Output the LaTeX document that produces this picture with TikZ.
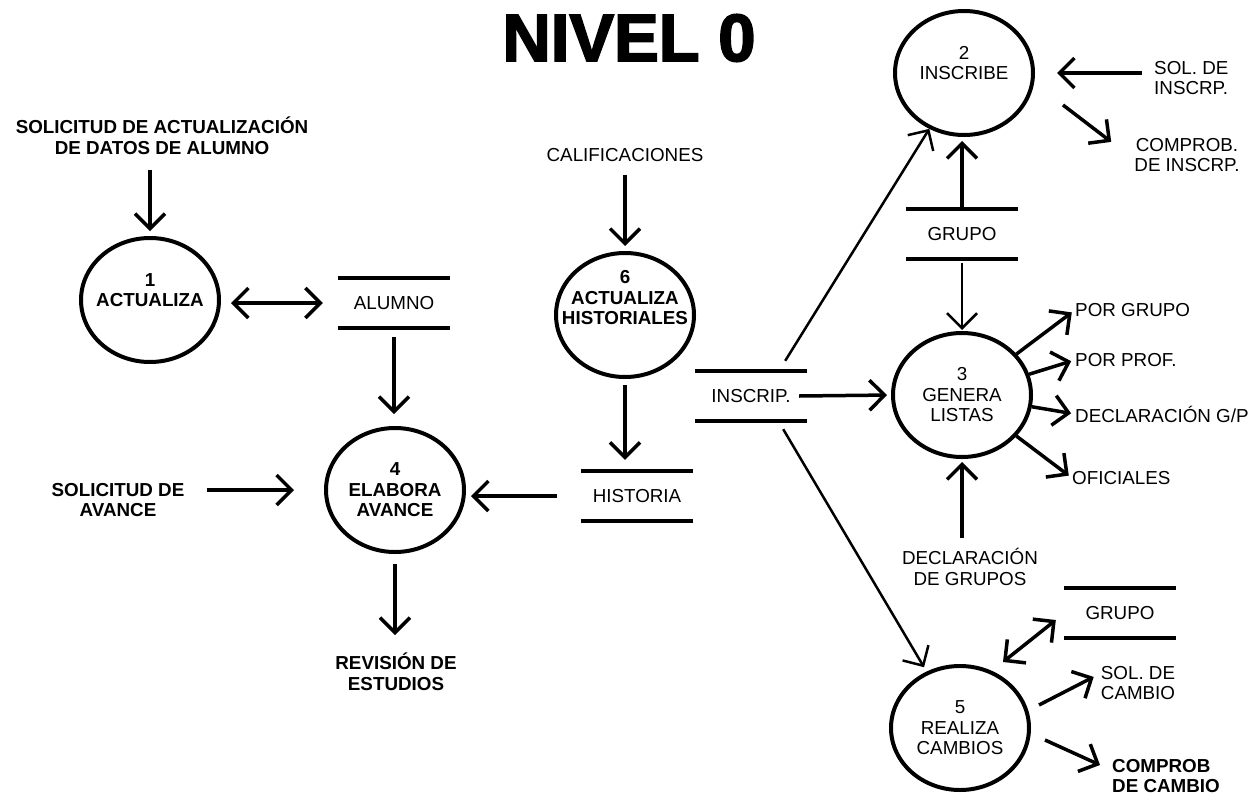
\documentclass[tikz,border=0pt]{standalone}
\usepackage{fontspec}
\setmainfont{Liberation Sans}
\newfontfamily\titfont{Liberation Sans}[FakeBold=2.5]
\usetikzlibrary{arrows.meta,shapes.geometric}
\newcommand{\lblfont}{\fontsize{18.8}{20.5}\selectfont}

\begin{document}
\begin{tikzpicture}[x=1pt, y=-1pt,
  proc/.style={draw, ellipse, line width=4pt, minimum width=138pt, minimum height=124pt, inner sep=0pt},
  ptxt/.style={align=center, font=\lblfont, inner sep=0pt},
  lbl/.style={align=center, font=\lblfont, inner sep=0pt},
  store/.style={minimum width=112pt, minimum height=50pt, inner sep=0pt, font=\lblfont,
    append after command={(\tikzlastnode.north west) edge[line width=4pt] (\tikzlastnode.north east)
      (\tikzlastnode.south west) edge[line width=4pt] (\tikzlastnode.south east)}},
  flow/.style={-{Straight Barb[length=15pt,width=30pt]}, line width=3.5pt},
  thinflow/.style={flow, line width=2.5pt},
  both/.style={{Straight Barb[length=15pt,width=30pt]}-{Straight Barb[length=15pt,width=30pt]}, line width=3.5pt}
]
\useasboundingbox (0,0) rectangle (1253,803);

\node[font=\titfont\fontsize{67}{70}\selectfont\bfseries, inner sep=0pt] (titulo) at (629,38) {NIVEL 0};

% procesos
\node[proc, label={[ptxt, font=\lblfont\bfseries, yshift=10pt]center:{1\\ACTUALIZA}}] (p1) at (150,300) {};
\node[proc, label={[ptxt, yshift=10pt]center:{2\\INSCRIBE}}] (p2) at (964,73) {};
\node[proc, label={[ptxt]center:{3\\GENERA\\LISTAS}}] (p3) at (962,395) {};
\node[proc, label={[ptxt, font=\lblfont\bfseries]center:{4\\ELABORA\\AVANCE}}] (p4) at (395,490) {};
\node[proc, label={[ptxt]center:{5\\REALIZA\\CAMBIOS}}] (p5) at (960,728) {};
\node[proc, label={[ptxt, font=\lblfont\bfseries, yshift=17pt]center:{6\\ACTUALIZA\\HISTORIALES}}] (p6) at (625,315) {};

% almacenes
\node[store] (alumno) at (394,303) {ALUMNO};
\node[store] (historia) at (637,496) {HISTORIA};
\node[store] (inscrip) at (751,396) {INSCRIP.};
\node[store] (grupoa) at (962,234) {GRUPO};
\node[store] (grupob) at (1120,613) {GRUPO};

% entradas y salidas
\node[lbl, font=\lblfont\bfseries] (solact) at (162,136) {SOLICITUD DE ACTUALIZACIÓN\\DE DATOS DE ALUMNO};
\node[lbl] (calif) at (625,155) {CALIFICACIONES};
\node[lbl, font=\lblfont\bfseries] (solav) at (118,500) {SOLICITUD DE\\AVANCE};
\node[lbl, font=\lblfont\bfseries] (revis) at (396,672) {REVISIÓN DE\\ESTUDIOS};
\node[lbl, anchor=west, align=left] (soli) at (1154,78) {SOL. DE\\INSCRP.};
\node[lbl] (cmpi) at (1187,155) {COMPROB.\\DE INSCRP.};
\node[lbl, anchor=west] (porgrupo) at (1075,310) {POR GRUPO};
\node[lbl, anchor=west] (porprof) at (1075,360) {POR PROF.};
\node[lbl, anchor=west] (declgp) at (1075,414) {DECLARACIÓN G/P};
\node[lbl, anchor=west] (ofic) at (1072,478) {OFICIALES};
\node[lbl] (declg) at (970,567) {DECLARACIÓN\\DE GRUPOS};
\node[lbl] (solc) at (1138,683) {SOL. DE\\CAMBIO};
\node[lbl, font=\lblfont\bfseries, anchor=west, align=left] (cmpc) at (1112,776) {COMPROB\\DE CAMBIO};

% flujos
\draw[flow, shorten <=15pt, shorten >=5pt] (solact.south -| p1.north) -- (p1.north);
\draw[both, shorten <=10pt, shorten >=15pt] (p1.east |- alumno.west) -- (alumno.west);
\draw[flow, shorten <=9pt, shorten >=12pt] (alumno.south) -- (alumno.south |- p4.north);
\draw[flow, shorten <=22pt, shorten >=30pt] (solav.east |- p4.west) -- (p4.west);
\draw[flow, shorten <=24pt, shorten >=5pt] (historia.west) -- (historia.west -| p4.east);
\draw[flow, shorten <=13pt, shorten >=5pt] (calif.south) -- (p6.north);
\draw[flow, shorten <=6pt, shorten >=11pt] (p6.south) -- (p6.south |- historia.north);
\draw[flow, shorten <=10pt, shorten >=18pt] (p4.south) -- (p4.south |- revis.north);

\draw[thinflow] ([xshift=-22pt,yshift=10pt]inscrip.north east) -- (p2);
\draw[flow, shorten >=4pt] ([xshift=-8pt]inscrip.east) -- (p3.west);
\draw[thinflow, shorten >=5pt] ([xshift=-24pt,yshift=-8pt]inscrip.south east) -- (p5);
\draw[flow, shorten <=12pt, shorten >=22pt] (soli.west |- p2.east) -- (p2.east);
\draw[flow] ([xshift=99pt,yshift=-32pt]p2.center) -- ([xshift=-23pt,yshift=-4pt]cmpi.north west);

\draw[flow, shorten >=4pt] (grupoa.north) -- (grupoa.north |- p2.south);
\draw[thinflow, shorten <=4pt, shorten >=1pt] (grupoa.south) -- (grupoa.south |- p3.north);
\foreach \o in {porgrupo, porprof, declgp, ofic}
  \draw[flow, shorten >=4pt] (p3) -- (\o.west);
\draw[flow, shorten <=10pt, shorten >=3pt] (declg.north -| p3.south) -- (p3.south);

\draw[both] ([xshift=-8pt,yshift=-7pt]grupob.west) -- ([xshift=43pt,yshift=66pt]p5.center);
\draw[flow] ([xshift=79pt,yshift=23pt]p5.center) -- ([xshift=-7pt,yshift=-11pt]solc.north west);
\draw[flow] ([xshift=85pt,yshift=-12pt]p5.center) -- ([xshift=-12pt,yshift=11pt]cmpc.west);
\end{tikzpicture}
\end{document}
